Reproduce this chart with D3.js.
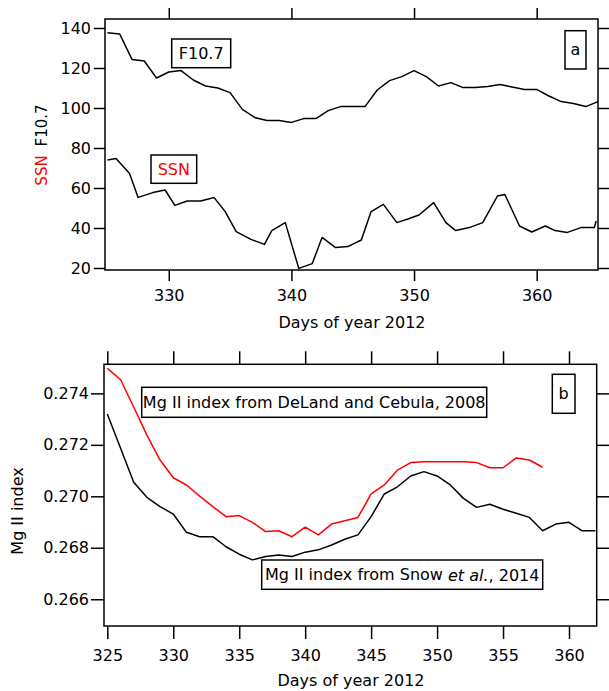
<!DOCTYPE html>
<html>
<head>
<meta charset="utf-8">
<script src="https://cdn.jsdelivr.net/npm/d3@7"></script>
<style>
  body { margin: 0; background: #fff; }
  svg text { font-family: "DejaVu Sans", Verdana, sans-serif; }
</style>
</head>
<body>
<div id="chart"></div>
<script>
// panel a: F10.7 and SSN, days of year 2012
var f107Days = [325, 326, 327, 328, 329, 330, 331, 332, 333, 334, 335, 336, 337, 338, 339, 340, 341, 342, 343, 344,
	345, 346, 347, 348, 349, 350, 351, 352, 353, 354, 355, 356, 357, 358, 359, 360, 361, 362, 363, 364, 365];
var f107Values = [137.6, 137, 124.3, 123.5, 115, 118, 118.7, 114, 111, 110, 107.7, 99.3, 95.3, 93.7, 93.7, 92.8, 94.7, 94.7, 98.7, 100.7,
	100.7, 100.7, 109, 113.7, 115.7, 118.7, 115.7, 111, 112.7, 110.2, 110.2, 110.8, 111.7, 110.5, 109.3, 109.3, 106, 103.2, 102.2, 100.7, 103.2];

var ssnDays = [325, 325.7, 326.8, 327.5, 328.7, 329.7, 330.5, 331.5, 332.6, 333.7, 334.6, 335.5, 336.7, 337.8, 338.4, 339.5,
	340.6, 341.7, 342.5, 343.6, 344.6, 345.7, 346.5, 347.5, 348.6, 349.5, 350.4, 351.6, 352.6, 353.4, 354.5, 355.6,
	356.8, 357.4, 358.6, 359.6, 360.7, 361.5, 362.5, 363.6, 364.7, 364.85];
var ssnValues = [74, 74.7, 67.3, 55.3, 57.7, 59, 51.3, 53.5, 53.5, 55.2, 48.2, 38.2, 34.3, 31.8, 38.7, 42.7,
	19.8, 22.2, 35.3, 30.2, 30.7, 34, 48.2, 51.8, 42.7, 44.5, 46.5, 52.7, 42.7, 38.7, 40.2, 42.7,
	56, 56.8, 41, 38, 41, 38.7, 37.8, 40.2, 40.2, 43.5];

var topXTicks = [330, 340, 350, 360];
var topYTicks = [20, 40, 60, 80, 100, 120, 140];

// panel b: Mg II index
var delandDays = [325, 326, 327, 328, 329, 330, 331, 332, 333, 334, 335, 336, 337, 338, 339, 340, 341, 342, 343, 344,
	345, 346, 347, 348, 349, 350, 351, 352, 353, 354, 355, 356, 357, 358];
var delandValues = [0.27497, 0.27454, 0.27347, 0.27238, 0.27141, 0.27072, 0.27044, 0.27001, 0.26960, 0.26921, 0.26925, 0.26899,
	0.26863, 0.26866, 0.26843, 0.26880, 0.26850, 0.26892, 0.26905, 0.26918, 0.27009, 0.27044, 0.27102, 0.27131,
	0.27134, 0.27134, 0.27134, 0.27134, 0.27131, 0.27111, 0.27111, 0.27149, 0.27141, 0.27113];

var snowDays = [325, 326, 327, 328, 329, 330, 331, 332, 333, 334, 335, 336, 337, 338, 339, 340, 341, 342, 343, 344,
	345, 346, 347, 348, 349, 350, 351, 352, 353, 354, 355, 356, 357, 358, 359, 360, 361, 362];
var snowValues = [0.27320, 0.27188, 0.27055, 0.26996, 0.26960, 0.26931, 0.26860, 0.26843, 0.26843, 0.26804, 0.26775, 0.26753,
	0.26766, 0.26772, 0.26766, 0.26783, 0.26792, 0.26811, 0.26833, 0.26850, 0.26921, 0.27009, 0.27037, 0.27079,
	0.27096, 0.27079, 0.27044, 0.26992, 0.26957, 0.26969, 0.26950, 0.26934, 0.26918, 0.26866, 0.26892, 0.26899,
	0.26866, 0.26866];

var botXTicks = [325, 330, 335, 340, 345, 350, 355, 360];
var botYTicks = [0.266, 0.268, 0.270, 0.272, 0.274];

var svg = d3.select('#chart').append('svg').attr('width', 609).attr('height', 691);

var xA = d3.scaleLinear().domain([324.8, 365]).range([105, 598]);
var yA = d3.scaleLinear().domain([19, 144.5]).range([270, 19]);
var xB = d3.scaleLinear().domain([324.75, 362.1]).range([104, 596.7]);
var yB = d3.scaleLinear().domain([0.26496, 0.27513]).range([626, 364.3]);

// draws axes on all four sides, labels only left and bottom
function drawFrame(x, y, xTicks, yTicks, yFmt, tick, pad) {
	var x0 = x.range()[0], x1 = x.range()[1], y0 = y.range()[1], y1 = y.range()[0];
	var g = svg.append('g');
	g.append('g').attr('transform', 'translate(0,' + y1 + ')')
		.call(d3.axisBottom(x).tickValues(xTicks).tickSize(tick).tickPadding(pad.b).tickFormat(d3.format('d')));
	g.append('g').attr('transform', 'translate(0,' + y0 + ')')
		.call(d3.axisTop(x).tickValues(xTicks).tickSize(tick).tickFormat(''));
	g.append('g').attr('transform', 'translate(' + x0 + ',0)')
		.call(d3.axisLeft(y).tickValues(yTicks).tickSize(tick).tickPadding(pad.l).tickFormat(yFmt));
	g.append('g').attr('transform', 'translate(' + x1 + ',0)')
		.call(d3.axisRight(y).tickValues(yTicks).tickSize(tick).tickFormat(''));
	g.selectAll('.domain').remove();
	g.selectAll('.tick line').attr('stroke', '#000').attr('stroke-width', 1.5);
	g.selectAll('.tick text').attr('fill', '#000').style('font-size', '16px');
	svg.append('rect').attr('x', x0).attr('y', y0).attr('width', x1 - x0).attr('height', y1 - y0)
		.attr('fill', 'none').attr('stroke', '#000').attr('stroke-width', 1.5);
}

function drawLine(x, y, days, vals, color) {
	var line = d3.line().x((d, i) => x(days[i])).y((d) => y(d));
	svg.append('path').datum(vals).attr('d', line)
		.attr('fill', 'none').attr('stroke', color).attr('stroke-width', 1.5).attr('stroke-linejoin', 'round');
}

function labelBox(x, y, w, h, txt, color) {
	svg.append('rect').attr('x', x).attr('y', y).attr('width', w).attr('height', h)
		.attr('fill', '#fff').attr('stroke', '#000').attr('stroke-width', 1.5);
	return svg.append('text').attr('x', x + w / 2).attr('y', y + h / 2).attr('text-anchor', 'middle')
		.attr('dominant-baseline', 'central').style('font-size', '16px').attr('fill', color || '#000').text(txt);
}

// ---- panel a
drawLine(xA, yA, f107Days, f107Values, '#000');
drawLine(xA, yA, ssnDays, ssnValues, '#000');
drawFrame(xA, yA, topXTicks, topYTicks, d3.format('d'), 11, { b: 9, l: 3 });

labelBox(171.7, 39, 59, 28.7, 'F10.7');
labelBox(151, 155, 45.7, 28.3, 'SSN', '#f00');
labelBox(565, 30.7, 21, 38.3, 'a');

svg.append('text').attr('x', 352).attr('y', 328).attr('text-anchor', 'middle').style('font-size', '16px').text('Days of year 2012');
var ty = svg.append('text').attr('transform', 'translate(47,145) rotate(-90)').attr('text-anchor', 'middle').style('font-size', '15px');
ty.append('tspan').attr('fill', '#f00').text('SSN');
ty.append('tspan').attr('fill', '#000').attr('dx', 9).text('F10.7');

// ---- panel b
drawLine(xB, yB, delandDays, delandValues, '#f00');
drawLine(xB, yB, snowDays, snowValues, '#000');
drawFrame(xB, yB, botXTicks, botYTicks, d3.format('.3f'), 13, { b: 11, l: 2 });

labelBox(141.7, 387.3, 345, 30, 'Mg II index from DeLand and Cebula, 2008');
var sn = labelBox(261.7, 560, 281, 29.3, 'Mg II index from Snow ');
sn.append('tspan').style('font-style', 'italic').text('et al.');
sn.append('tspan').text(', 2014');
labelBox(552.3, 374.3, 22.7, 39, 'b');

svg.append('text').attr('x', 351).attr('y', 686).attr('text-anchor', 'middle').style('font-size', '16px').text('Days of year 2012');
svg.append('text').attr('transform', 'translate(23,511) rotate(-90)').attr('text-anchor', 'middle').style('font-size', '16px').text('Mg II index');
</script>
</body>
</html>
